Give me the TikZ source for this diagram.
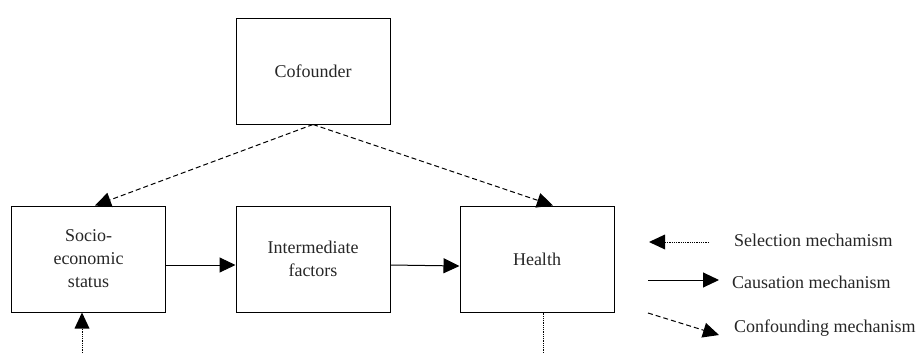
\documentclass[tikz,border=0pt]{standalone}
\usepackage{fontspec}
\setmainfont{Liberation Serif}
\usetikzlibrary{arrows.meta}
\begin{document}
\begin{tikzpicture}[x=1pt,y=-1pt,
  box/.style={draw,line width=1pt,minimum width=154pt,minimum height=106pt,inner sep=0pt,align=center,font=\rmfamily\fontsize{18}{23}\selectfont,text=black!85},
  lbl/.style={anchor=west,inner sep=0pt,font=\rmfamily\fontsize{18}{23}\selectfont,text=black!85},
  tip/.style={-{Triangle[length=16pt,width=15pt]}},
  causal/.style={tip,line width=1pt},
  confound/.style={tip,line width=1pt,dash pattern=on 5pt off 3pt},
  select/.style={line width=0.7pt,dash pattern=on 0.8pt off 1pt},
  seltip/.style={select,-{Triangle[length=16pt,width=15pt,fill=black,line width=0pt]}}]
\useasboundingbox (0,0) rectangle (921,356);
\node[box] (cof) at (313,71) {Cofounder};
\node[box] (ses) at (88.5,259) {Socio-\\economic\\status};
\node[box] (int) at (313,259) {Intermediate\\factors};
\node[box] (hea) at (537,259) {Health};
\draw[confound] (cof.south) -- ([xshift=6.5pt]ses.north);
\draw[confound] (cof.south) -- ([xshift=16pt]hea.north);
\draw[causal] ([yshift=-6pt]ses.east) -- ([yshift=-6pt]int.west);
\draw[causal] ([yshift=-6pt]int.east) -- ([yshift=-7pt]hea.west);
\coordinate (sesin) at (82,353);
\draw[seltip] (sesin) -- ([xshift=-6.5pt]ses.south);
\coordinate (heaout) at (543,353);
\draw[select] ([xshift=6pt]hea.south) -- (heaout);
% legend
\coordinate (l1a) at (709,242); \coordinate (l1b) at (649,242);
\coordinate (l2a) at (648,280); \coordinate (l2b) at (719,280);
\coordinate (l3a) at (648,313); \coordinate (l3b) at (719,335);
\draw[seltip] (l1a) -- (l1b);
\draw[causal] (l2a) -- (l2b);
\draw[confound] (l3a) -- (l3b);
\node[lbl] (t1) at (734,240) {Selection mechamism};
\node[lbl] (t2) at (732,282) {Causation mechanism};
\node[lbl] (t3) at (734,328) {Confounding mechanism};
\end{tikzpicture}
\end{document}
